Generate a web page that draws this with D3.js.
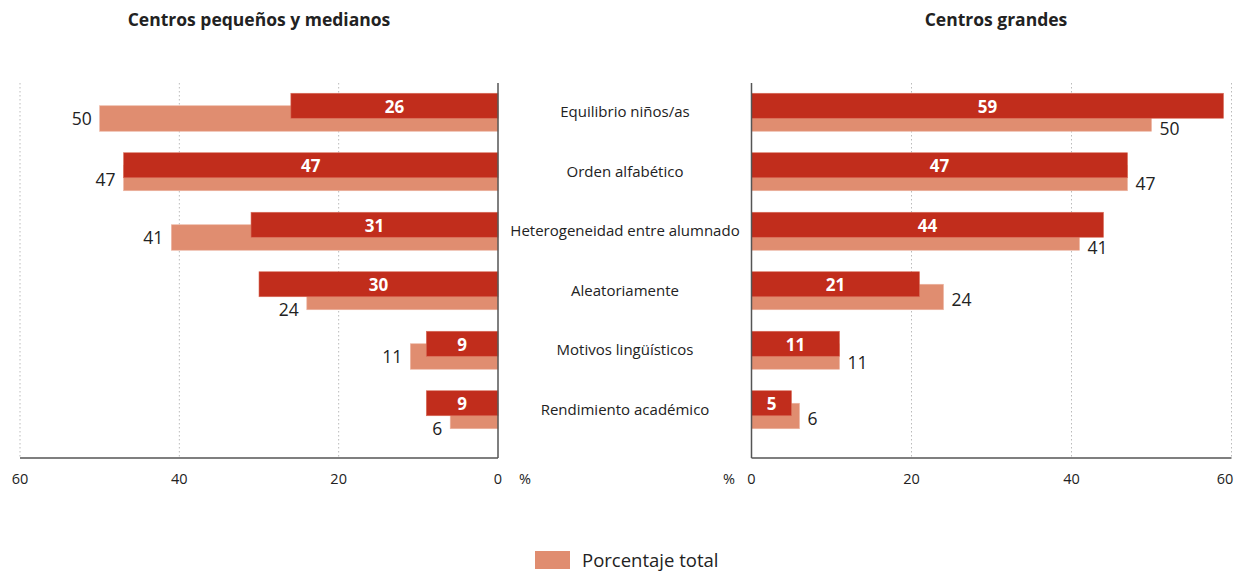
<!DOCTYPE html>
<html><head><meta charset="utf-8">
<script src="https://cdn.jsdelivr.net/npm/d3@7"></script>
<style>body{margin:0;background:#fff;} text{font-family:"Open Sans",sans-serif;}</style>
</head><body>
<svg id="c" width="1247" height="573"></svg>
<script>
const categories = ["Equilibrio niños/as","Orden alfabético","Heterogeneidad entre alumnado","Aleatoriamente","Motivos lingüísticos","Rendimiento académico"];
const smallMedium = [26,47,31,30,9,9];
const large = [59,47,44,21,11,5];
const total = [50,47,41,24,11,6];
const ticks = [0,20,40,60];
const titles = ["Centros pequeños y medianos","Centros grandes"];
const legendLabel = "Porcentaje total";

const svg = d3.select("#c");
const dark = "#C12D1C", light = "#E08D70";
const yTop = 83, yBottom = 458;
const y = d3.scaleBand().domain(categories).range([82, 439]).paddingInner(0).paddingOuter(0);
const xL = d3.scaleLinear().domain([0,60]).range([498,20]);
const xR = d3.scaleLinear().domain([0,60]).range([751.5,1231.5]);

function grid(x){
  ticks.filter(t=>t>0).forEach(t=>{
    svg.append("line").attr("x1",x(t)).attr("x2",x(t)).attr("y1",yTop).attr("y2",yBottom)
      .attr("stroke","#bbb").attr("stroke-dasharray","1.5,2.5").attr("stroke-width",1);
  });
}
grid(xL); grid(xR);

function rowC(c){ return y(c)+y.bandwidth()/2; }

function panel(x, vals, side){
  categories.forEach((c,i)=>{
    const cy = rowC(c);
    const lv = total[i], dv = vals[i];
    svg.append("rect").attr("x",Math.min(x(0),x(lv))).attr("y",cy-6).attr("width",Math.abs(x(lv)-x(0))).attr("height",25.5)
      .attr("fill",light).attr("stroke","#EDB5A2").attr("stroke-width",0.6);
    svg.append("rect").attr("x",Math.min(x(0),x(dv))).attr("y",cy-18.5).attr("width",Math.abs(x(dv)-x(0))).attr("height",25)
      .attr("fill",dark).attr("stroke","#D9705C").attr("stroke-width",0.6);
    svg.append("text").attr("x",(x(0)+x(dv))/2).attr("y",cy-5).attr("dy","0.35em")
      .attr("text-anchor","middle").attr("fill","#fff").attr("font-weight","bold").attr("font-size",17).text(dv);
    let off;
    if(side==="L") off = (lv > dv) ? 7 : (lv === dv ? 9 : 20);
    else off = (dv > lv) ? 17 : (dv === lv ? 13 : 10);
    const lx = side==="L" ? x(lv)-8 : x(lv)+8;
    svg.append("text").attr("x",lx).attr("y",cy+off).attr("dy","0.35em")
      .attr("text-anchor", side==="L"?"end":"start").attr("fill","#222").attr("font-size",17.5).text(lv);
  });
  svg.append("line").attr("x1",x(0)).attr("x2",x(0)).attr("y1",yTop).attr("y2",yBottom).attr("stroke","#555").attr("stroke-width",1.5);
  svg.append("line").attr("x1",x(0)).attr("x2",x(60)).attr("y1",yBottom).attr("y2",yBottom).attr("stroke","#555").attr("stroke-width",1.5);
  ticks.forEach(t=>{
    let tx = x(t);
    if(t===60) tx = side==="L" ? 20 : 1225;
    svg.append("text").attr("x",tx).attr("y",479).attr("dy","0.35em").attr("text-anchor","middle")
      .attr("fill","#222").attr("font-size",14.5).text(t);
  });
}
panel(xL, smallMedium, "L");
panel(xR, large, "R");

svg.append("text").attr("x",525).attr("y",479).attr("dy","0.35em").attr("text-anchor","middle").attr("font-size",14.5).attr("fill","#222").text("%");
svg.append("text").attr("x",729).attr("y",479).attr("dy","0.35em").attr("text-anchor","middle").attr("font-size",14.5).attr("fill","#222").text("%");

categories.forEach(c=>{
  svg.append("text").attr("x",625).attr("y",rowC(c)).attr("dy","0.35em").attr("text-anchor","middle")
    .attr("fill","#222").attr("font-size",15).text(c);
});

svg.append("text").attr("x",259).attr("y",20).attr("dy","0.35em").attr("text-anchor","middle").attr("font-weight","bold").attr("font-size",17.5).attr("fill","#222").text(titles[0]);
svg.append("text").attr("x",996).attr("y",20).attr("dy","0.35em").attr("text-anchor","middle").attr("font-weight","bold").attr("font-size",17.5).attr("fill","#222").text(titles[1]);

svg.append("rect").attr("x",535).attr("y",551).attr("width",35).attr("height",18).attr("fill",light);
svg.append("text").attr("x",582).attr("y",561).attr("dy","0.35em").attr("font-size",18.5).attr("fill","#222").text(legendLabel);
</script>
</body></html>
